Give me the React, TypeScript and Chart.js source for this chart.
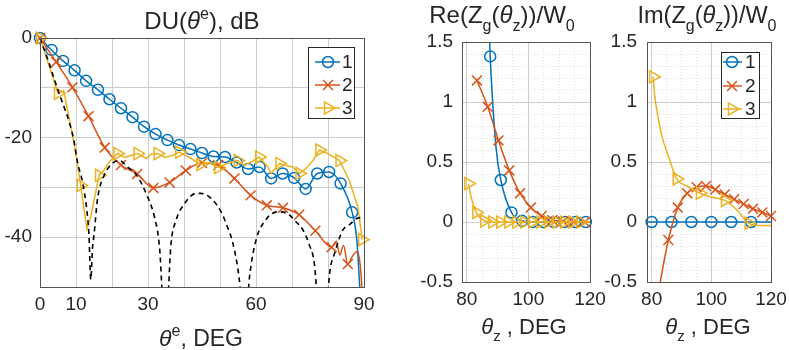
import React, { useEffect, useRef } from 'react';
import { Chart, registerables } from 'chart.js';

Chart.register(...registerables);

const FONT = '"Liberation Sans", Arial, Helvetica, sans-serif';
const TXT = '#262626';
const GRID = '#cccccc';
const MINOR = '#dedede';
const BOX = '#555555';
const BLUE = '#0072BD';
const RED = '#D95319';
const YEL = '#EDB120';

// ---------- Left panel: DU(θe), dB ----------
const duXTicks = [0, 10, 30, 60, 90];
const duYTicks = [0, -20, -40];

const duBlueX = [0, 3.2, 6.4, 9.6, 12.8, 16.1, 19.3, 22.5, 25.7, 28.9, 32.1, 35.4, 38.6, 41.8, 45.0, 48.2, 51.4, 54.6, 57.8, 61.0, 64.2, 67.4, 70.6, 73.8, 77.0, 80.3, 83.5, 86.7, 88.0, 88.9];
const duBlueY = [0, -2.4, -4.6, -6.5, -8.6, -10.4, -12.3, -14.1, -15.9, -17.8, -19.3, -20.5, -21.5, -22.3, -23.1, -23.8, -23.9, -25.0, -26.3, -25.9, -28.2, -27.2, -28.1, -30.3, -27.2, -26.9, -29.2, -35.0, -40.5, -51.0];
const duBlueMk = [1, 1, 1, 1, 1, 1, 1, 1, 1, 1, 1, 1, 1, 1, 1, 1, 1, 1, 1, 1, 1, 1, 1, 1, 1, 1, 1, 1, 0, 0];

const duRedX = [0, 4.5, 9, 13.5, 18, 22.5, 27, 31.5, 36, 40.5, 45, 49.5, 54, 58.5, 63, 67.5, 72, 76.5, 81, 82.3, 83.3, 84.3, 85.5, 86.8, 88.2, 89.0, 89.6];
const duRedY = [0, -4.8, -9.9, -15.7, -22.0, -25.5, -27.3, -30.1, -29.0, -26.6, -25.1, -25.5, -28.2, -31.6, -33.6, -34.1, -35.5, -38.7, -42.0, -40.8, -43.6, -41.6, -45.4, -43.8, -42.8, -46.0, -52.0];
const duRedMk = [1, 1, 1, 1, 1, 1, 1, 1, 1, 1, 1, 1, 1, 1, 1, 1, 1, 1, 1, 0, 0, 0, 1, 0, 0, 0, 0];

const duYelX = [0, 5.0, 6.6, 9.0, 9.8, 11.3, 13.0, 14.1, 16.4, 17.8, 19.2, 21.5, 23.5, 25.3, 27.1, 29.5, 31.0, 32.7, 34.8, 36.7, 38.7, 41.5, 44.6, 47.0, 49.5, 52.0, 54.9, 56.8, 58.9, 60.9, 63.3, 64.2, 66.5, 68.3, 70.2, 72.1, 73.9, 75.8, 77.6, 79.9, 83.2, 85.9, 88.3, 89.5];
const duYelY = [0, -11.1, -10.6, -19.5, -22.5, -29.6, -38.3, -35.9, -27.6, -26.5, -24.9, -23.2, -24.0, -23.6, -23.2, -24.2, -23.3, -23.2, -24.0, -23.6, -22.9, -24.0, -25.4, -25.0, -26.0, -25.2, -24.6, -25.6, -24.8, -23.9, -25.9, -27.2, -25.2, -25.6, -25.9, -27.2, -26.2, -24.6, -22.5, -23.2, -24.6, -28.6, -33.9, -40.5];
const duYelMk = [1, 1, 0, 0, 0, 1, 0, 0, 1, 0, 0, 1, 0, 0, 1, 0, 0, 1, 0, 0, 1, 0, 1, 0, 1, 0, 1, 0, 0, 1, 0, 0, 1, 0, 0, 1, 0, 0, 1, 0, 1, 0, 0, 1];

const duRefX = [0, 2.4, 4.8, 6.5, 8.1, 9.5, 10.4, 11.8, 13.0, 13.6, 14.1, 14.6, 15.0, 16.0, 17.8, 20.1, 22.0, 24.3, 26.8, 29.9, 31.8, 33.2, 34.8, 36.4, 37.8, 40.1, 43.4, 44.7, 47.5, 50.3, 52.1, 53.5, 55.4, 56.8, 58.2, 60.0, 62.3, 66.0, 68.4, 71.1, 73.0, 74.8, 76.2, 78.5, 80.5, 81.8, 84.1, 86.1, 87.8, 90];
const duRefY = [0, -4.8, -10.1, -13.5, -16.8, -20.9, -24.9, -28.9, -34.5, -39.6, -48.5, -42.0, -39.6, -32.2, -27.6, -25.2, -24.6, -25.9, -27.5, -31.9, -36.0, -42.0, -60.0, -41.3, -36.6, -33.3, -31.2, -31.2, -32.2, -34.9, -38.0, -41.0, -48.7, -60.0, -48.0, -40.6, -36.9, -34.9, -35.1, -36.9, -38.5, -41.5, -45.3, -65.0, -47.0, -43.3, -38.6, -37.4, -36.3, -36.0];

// ---------- Middle panel: Re(Zg(θz))/W0 ----------
const zXTicks = [80, 100, 120];
const zYTicks = [-0.5, 0, 0.5, 1, 1.5];

const reBlueX = [87.2, 87.6, 89.5, 91.05, 94.5, 97.95, 101.4, 104.85, 108.3, 111.75, 115.2, 118.65, 120];
const reBlueY = [1.65, 1.38, 0.62, 0.35, 0.08, 0.01, 0, 0, 0, 0, 0, 0, 0];
const reBlueMk = [0, 1, 0, 1, 1, 1, 1, 1, 1, 1, 1, 1, 0];

const reRedX = [83.3, 86.8, 90.3, 93.8, 97.3, 100.8, 104.3, 107.8, 111.3, 114.8, 118.3, 120];
const reRedY = [1.18, 0.96, 0.68, 0.43, 0.24, 0.12, 0.05, 0.015, 0.005, 0, 0, 0];
const reRedMk = [1, 1, 1, 1, 1, 1, 1, 1, 1, 1, 1, 0];

const reYelX = [80.5, 81.5, 83.1, 85.7, 88.3, 90.9, 93.5, 96.1, 98.7, 101.3, 103.9, 106.5, 109.1, 111.7, 114.3, 116.9, 120];
const reYelY = [0.32, 0.2, 0.08, 0.01, 0, 0, 0, 0, 0, 0, 0, 0, 0, 0, 0, 0, 0];
const reYelMk = [1, 0, 1, 1, 1, 1, 1, 1, 1, 1, 1, 1, 1, 1, 1, 1, 0];

// ---------- Right panel: Im(Zg(θz))/W0 ----------
const imBlueX = [78.45, 80, 86.67, 93.33, 100, 106.67, 113.33, 120];
const imBlueY = [0, 0, 0, 0, 0, 0, 0, 0];
const imBlueMk = [0, 1, 1, 1, 1, 1, 1, 0];

const imRedX = [82.0, 85.6, 88.75, 91.9, 95.05, 98.2, 101.35, 104.5, 107.65, 110.8, 113.95, 117.1, 120];
const imRedY = [-0.62, -0.15, 0.12, 0.24, 0.29, 0.30, 0.27, 0.23, 0.19, 0.15, 0.11, 0.08, 0.05];
const imRedMk = [0, 1, 1, 1, 1, 1, 1, 1, 1, 1, 1, 1, 1];

const imYelX = [80.5, 81.0, 81.7, 83.4, 85.6, 88.4, 91.8, 96.2, 99.6, 104.6, 108.6, 112.5, 116.4, 120];
const imYelY = [1.21, 1.06, 0.94, 0.72, 0.55, 0.36, 0.30, 0.24, 0.21, 0.18, 0.10, -0.01, -0.03, -0.03];
const imYelMk = [1, 0, 0, 0, 0, 1, 0, 1, 0, 1, 0, 1, 0, 0];

const legendLabels = ['1', '2', '3'];

type Seg = { t: string; it?: boolean; sub?: boolean; sup?: boolean };
const duTitle: Seg[] = [{ t: 'DU(' }, { t: 'θ', it: true }, { t: 'e', sup: true }, { t: '), dB' }];
const duXLabel: Seg[] = [{ t: 'θ', it: true }, { t: 'e', sup: true }, { t: ', DEG' }];
const reTitle: Seg[] = [{ t: 'Re(Z' }, { t: 'g', sub: true }, { t: '(' }, { t: 'θ', it: true }, { t: 'z', sub: true }, { t: '))/W' }, { t: '0', sub: true }];
const imTitle: Seg[] = [{ t: 'Im(Z' }, { t: 'g', sub: true }, { t: '(' }, { t: 'θ', it: true }, { t: 'z', sub: true }, { t: '))/W' }, { t: '0', sub: true }];
const zXLabel: Seg[] = [{ t: 'θ', it: true }, { t: 'z', sub: true }, { t: ' , DEG' }];

const STYLES = [
  { color: BLUE, style: 'circle', r: 5.5 },
  { color: RED, style: 'crossRot', r: 7 },
  { color: YEL, style: 'triangle', r: 7 },
];

function segFont(s: Seg, size: number) {
  const sz = s.sub || s.sup ? Math.round(size * 0.68) : size;
  return `${s.it ? 'italic ' : ''}${sz}px ${FONT}`;
}

function drawRich(ctx: CanvasRenderingContext2D, segs: Seg[], cx: number, by: number, size: number) {
  const widths = segs.map((s) => {
    ctx.font = segFont(s, size);
    return ctx.measureText(s.t).width;
  });
  const total = widths.reduce((a, b) => a + b, 0);
  let x = cx - total / 2;
  ctx.textAlign = 'left';
  ctx.textBaseline = 'alphabetic';
  ctx.fillStyle = TXT;
  segs.forEach((s, i) => {
    ctx.font = segFont(s, size);
    const dy = s.sub ? size * 0.32 : s.sup ? -size * 0.42 : 0;
    ctx.fillText(s.t, x, by + dy);
    x += widths[i];
  });
}

function drawMarker(ctx: CanvasRenderingContext2D, style: string, x: number, y: number, r: number) {
  ctx.beginPath();
  if (style === 'circle') {
    ctx.arc(x, y, r, 0, Math.PI * 2);
  } else if (style === 'crossRot') {
    const d = r * Math.SQRT1_2;
    ctx.moveTo(x - d, y - d);
    ctx.lineTo(x + d, y + d);
    ctx.moveTo(x - d, y + d);
    ctx.lineTo(x + d, y - d);
  } else {
    let a = Math.PI / 2;
    ctx.moveTo(x + Math.sin(a) * r, y - Math.cos(a) * r);
    a += (2 * Math.PI) / 3;
    ctx.lineTo(x + Math.sin(a) * r, y - Math.cos(a) * r);
    a += (2 * Math.PI) / 3;
    ctx.lineTo(x + Math.sin(a) * r, y - Math.cos(a) * r);
    ctx.closePath();
  }
  ctx.stroke();
}

type TextItem = { segs: Seg[]; cx: number; by: number; size: number };
type LegendCfg = { x1: number; y1: number; x2: number; y2: number; lx1: number; lx2: number; mx: number; tx: number; rows: number[] };

function decor(offX: number, texts: TextItem[], legend: LegendCfg | null) {
  return {
    id: 'decor',
    afterDraw(chart: any) {
      const ctx: CanvasRenderingContext2D = chart.ctx;
      const a = chart.chartArea;
      ctx.save();
      ctx.strokeStyle = BOX;
      ctx.lineWidth = 1;
      ctx.strokeRect(Math.round(a.left) + 0.5, Math.round(a.top) + 0.5, Math.round(a.right - a.left), Math.round(a.bottom - a.top));
      if (legend) {
        ctx.fillStyle = '#ffffff';
        ctx.fillRect(legend.x1 - offX, legend.y1, legend.x2 - legend.x1, legend.y2 - legend.y1);
        ctx.strokeStyle = '#262626';
        ctx.strokeRect(legend.x1 - offX + 0.5, legend.y1 + 0.5, legend.x2 - legend.x1, legend.y2 - legend.y1);
        legendLabels.forEach((lab, i) => {
          const st = STYLES[i];
          const y = legend.rows[i];
          ctx.strokeStyle = st.color;
          ctx.lineWidth = 1.5;
          ctx.beginPath();
          ctx.moveTo(legend.lx1 - offX, y);
          ctx.lineTo(legend.lx2 - offX, y);
          ctx.stroke();
          drawMarker(ctx, st.style, legend.mx - offX, y, st.r);
          ctx.fillStyle = TXT;
          ctx.font = `19px ${FONT}`;
          ctx.textAlign = 'left';
          ctx.textBaseline = 'middle';
          ctx.fillText(lab, legend.tx - offX, y + 1);
        });
      }
      texts.forEach((t) => drawRich(ctx, t.segs, t.cx - offX, t.by, t.size));
      ctx.restore();
    },
  };
}

function series(xs: number[], ys: number[], mk: number[] | null, color: string, style: string, r: number, extra: any = {}) {
  return {
    data: xs.map((x, i) => ({ x, y: ys[i] })),
    borderColor: color,
    borderWidth: 1.5,
    backgroundColor: color,
    pointStyle: style,
    pointRotation: style === 'triangle' ? 90 : 0,
    pointRadius: (c: any) => (mk && mk[c.dataIndex] ? r : 0),
    pointBorderColor: color,
    pointBackgroundColor: 'rgba(0,0,0,0)',
    pointBorderWidth: 1.5,
    cubicInterpolationMode: 'monotone',
    ...extra,
  };
}

const tickFont = { family: FONT, size: 19 };

function majorMinor(min: number, max: number, step: number, minorStep: number, labels: number[], horizontal: boolean, size: number, pad: number, fmt: (v: number) => string) {
  const fitMajor = horizontal
    ? (s: any) => { s.height = size; s.paddingLeft = 0; s.paddingRight = 0; }
    : (s: any) => { s.width = size; s.paddingTop = 0; s.paddingBottom = 0; };
  const fitMinor = horizontal
    ? (s: any) => { s.height = 0; s.paddingLeft = 0; s.paddingRight = 0; }
    : (s: any) => { s.width = 0; s.paddingTop = 0; s.paddingBottom = 0; };
  const major: any = {
    type: 'linear',
    position: horizontal ? 'bottom' : 'left',
    min, max,
    ticks: {
      stepSize: step, autoSkip: false, maxRotation: 0, includeBounds: false, padding: pad,
      font: tickFont, color: TXT,
      callback: (v: number) => (labels.some((l) => Math.abs(l - v) < 1e-6) ? fmt(v) : ''),
    },
    grid: { color: GRID, drawTicks: false, lineWidth: 1 },
    border: { display: false },
    afterFit: fitMajor,
  };
  if (!minorStep) return { major, minor: null };
  const minor: any = {
    type: 'linear',
    position: horizontal ? 'bottom' : 'left',
    min, max,
    ticks: { display: false, stepSize: minorStep, includeBounds: false, autoSkip: false },
    grid: {
      drawTicks: false, lineWidth: 1,
      color: (c: any) => {
        const v = c.tick ? c.tick.value / step : 0.5;
        return Math.abs(v - Math.round(v)) < 1e-6 ? 'rgba(0,0,0,0)' : MINOR;
      },
    },
    border: { display: false, dash: [1, 2] },
    afterFit: fitMinor,
  };
  return { major, minor };
}

const common = {
  animation: false,
  responsive: false,
  devicePixelRatio: 1,
  events: [],
  plugins: { legend: { display: false }, tooltip: { enabled: false }, title: { display: false } },
};

function leftConfig(): any {
  const xs = majorMinor(0, 90, 10, 0, duXTicks, true, 35, 6, (v) => String(v));
  const ys = majorMinor(-50, 0, 10, 0, duYTicks, false, 40, 8, (v) => String(v));
  const clip = { left: 10, right: 10, top: 10, bottom: 0 };
  return {
    type: 'line',
    data: {
      datasets: [
        series(duRefX, duRefY, null, '#000000', 'circle', 0, { borderDash: [5, 4], borderWidth: 1.6, clip }),
        series(duYelX, duYelY, duYelMk, YEL, 'triangle', 7, { cubicInterpolationMode: 'default', tension: 0, clip }),
        series(duRedX, duRedY, duRedMk, RED, 'crossRot', 7, { clip }),
        series(duBlueX, duBlueY, duBlueMk, BLUE, 'circle', 5.5, { clip }),
      ],
    },
    options: {
      ...common,
      layout: { autoPadding: false, padding: { left: 0, right: 36, top: 38, bottom: 28 } },
      scales: { x: xs.major, y: ys.major },
    },
    plugins: [
      decor(0, [
        { segs: duTitle, cx: 202, by: 29, size: 24 },
        { segs: duXLabel, cx: 201, by: 346, size: 23 },
      ], { x1: 308, y1: 47, x2: 354, y2: 118, lx1: 315, lx2: 340, mx: 328, tx: 342, rows: [62, 85, 108] }),
    ],
  };
}

function zConfig(which: 're' | 'im', offX: number, yAxisW: number, padR: number, yPad: number): any {
  const xs = majorMinor(78.45, 120, 20, 5, zXTicks, true, 35, 6, (v) => String(v));
  const ys = majorMinor(-0.5, 1.5, 0.5, 0.1, zYTicks, false, yAxisW, yPad, (v) => String(Math.round(v * 10) / 10));
  const datasets = which === 're'
    ? [
        series(reYelX, reYelY, reYelMk, YEL, 'triangle', 7, { clip: { left: 10, right: 10, top: 0, bottom: 10 } }),
        series(reRedX, reRedY, reRedMk, RED, 'crossRot', 7, { clip: { left: 10, right: 10, top: 0, bottom: 10 } }),
        series(reBlueX, reBlueY, reBlueMk, BLUE, 'circle', 5.5, { clip: { left: 10, right: 10, top: 0, bottom: 10 } }),
      ]
    : [
        series(imYelX, imYelY, imYelMk, YEL, 'triangle', 7, { clip: { left: 10, right: 10, top: 10, bottom: 0 } }),
        series(imRedX, imRedY, imRedMk, RED, 'crossRot', 7, { clip: { left: 10, right: 10, top: 10, bottom: 0 } }),
        series(imBlueX, imBlueY, imBlueMk, BLUE, 'circle', 5.5, { clip: { left: 10, right: 10, top: 10, bottom: 0 } }),
      ];
  const texts = which === 're'
    ? [
        { segs: reTitle, cx: 502, by: 23, size: 24 },
        { segs: zXLabel, cx: 524, by: 334, size: 22 },
      ]
    : [
        { segs: imTitle, cx: 707, by: 23, size: 23.5 },
        { segs: zXLabel, cx: 708, by: 334, size: 22 },
      ];
  const legend = which === 'im'
    ? { x1: 721, y1: 52, x2: 759, y2: 118, lx1: 723, lx2: 742, mx: 732, tx: 745, rows: [62, 86, 109] }
    : null;
  return {
    type: 'line',
    data: { datasets },
    options: {
      ...common,
      layout: { autoPadding: false, padding: { left: 0, right: padR, top: 42, bottom: 33 } },
      scales: { x: xs.major, xm: xs.minor, y: ys.major, ym: ys.minor },
    },
    plugins: [decor(offX, texts, legend)],
  };
}

function ChartCanvas({ left, width, make }: { left: number; width: number; make: () => any }) {
  const ref = useRef<HTMLCanvasElement>(null);
  useEffect(() => {
    if (!ref.current) return;
    const chart = new Chart(ref.current, make());
    return () => chart.destroy();
  }, []);
  return (
    <canvas
      ref={ref}
      width={width}
      height={350}
      style={{ position: 'absolute', left, top: 0, width, height: 350 }}
    />
  );
}

export default function App() {
  return (
    <div style={{ position: 'absolute', left: 0, top: 0, width: 789, height: 350, background: '#ffffff', overflow: 'hidden' }}>
      <ChartCanvas left={0} width={400} make={leftConfig} />
      <ChartCanvas left={395} width={220} make={() => zConfig('re', 395, 67, 25, 9)} />
      <ChartCanvas left={598} width={191} make={() => zConfig('im', 598, 49, 18, 10)} />
    </div>
  );
}
